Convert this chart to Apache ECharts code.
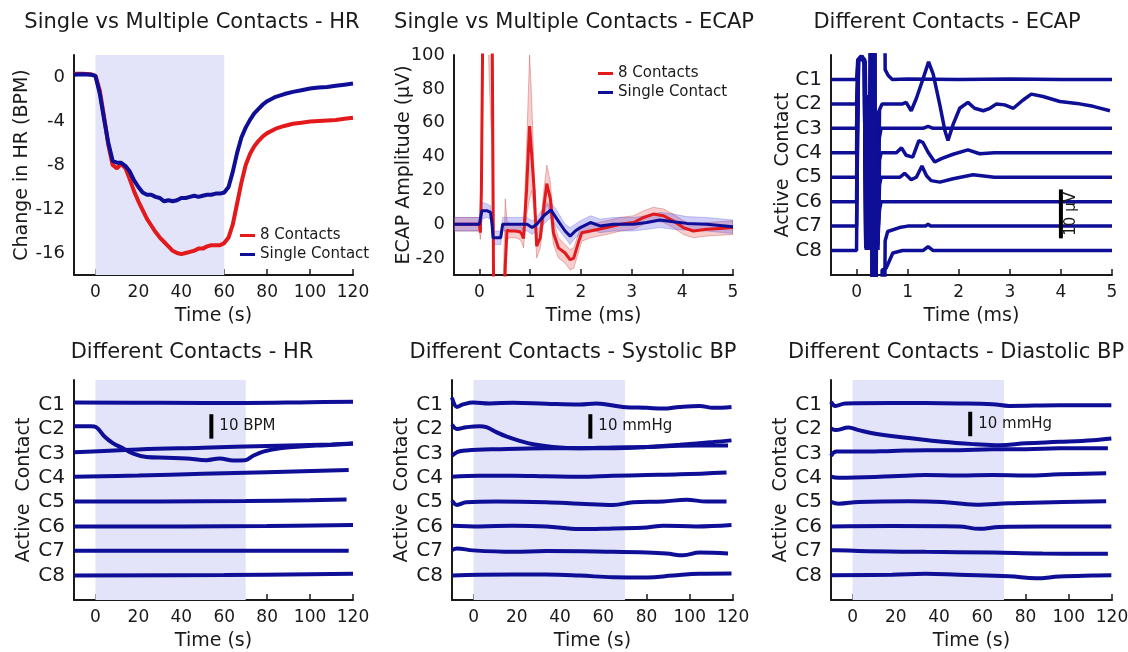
<!DOCTYPE html>
<html>
<head>
<meta charset="utf-8">
<script src="https://cdn.jsdelivr.net/npm/echarts@6/dist/echarts.min.js"></script>
<style>
  html, body { margin: 0; padding: 0; background: #fff; }
  #main { width: 1128px; height: 652px; }
</style>
</head>
<body>
<div id="main"></div>
<script>
// ---------- panel A: HR, single vs multiple contacts ----------
var hrTime = [-10,-6,-2,0,2,4,6,8,10,12,14,16,18,20,22,24,26,28,30,32,34,36,38,40,42,44,46,48,50,52,54,56,58,60,62,64,66,68,70,72,74,76,78,80,84,88,92,96,100,104,108,112,116,120];
var hrMulti = [0.3,0.3,0.25,0.1,-1.2,-3.6,-6.2,-8.0,-8.3,-7.9,-8.3,-9.3,-10.4,-11.3,-12.1,-12.9,-13.5,-14.1,-14.6,-15.0,-15.4,-15.8,-16.0,-16.1,-16.0,-15.9,-15.8,-15.6,-15.6,-15.4,-15.3,-15.3,-15.3,-15.1,-14.6,-13.4,-11.5,-9.6,-8.0,-7.0,-6.3,-5.8,-5.4,-5.1,-4.7,-4.45,-4.25,-4.15,-4.05,-4.0,-3.95,-3.9,-3.8,-3.7];
var hrSingle = [0.2,0.25,0.2,0.1,-1.5,-3.8,-6.0,-7.6,-7.8,-7.8,-8.1,-8.6,-9.4,-10.0,-10.5,-10.7,-10.7,-10.9,-11.0,-11.3,-11.2,-11.3,-11.2,-11.0,-11.0,-10.9,-10.8,-10.9,-10.8,-10.7,-10.7,-10.6,-10.6,-10.5,-10.0,-8.6,-6.9,-5.5,-4.6,-3.9,-3.3,-2.9,-2.5,-2.2,-1.8,-1.55,-1.35,-1.2,-1.05,-0.95,-0.9,-0.8,-0.7,-0.6];

// ---------- panel B: ECAP, single vs multiple contacts ----------
var ecapMultiT = [-0.5,-0.2,0,0.02,0.04,0.08,0.14,0.2,0.25,0.29,0.35,0.45,0.51,0.545,0.6,0.7,0.8,0.84,0.87,0.93,0.99,1.03,1.08,1.13,1.2,1.27,1.33,1.4,1.46,1.56,1.69,1.79,1.86,1.96,2.02,2.19,2.35,2.51,2.78,3.04,3.24,3.43,3.63,3.82,4.02,4.22,4.48,4.74,5.0];
var ecapMulti = [0,0,0,-5,20,160,200,190,130,-90,-150,-100,-25,-3.5,-4,-4,-4.5,-6,-8.4,20,58,42,20,-13,-8,10,24,15,-5,-14,-17,-21,-20,-10,-5,-4,-3,-2,0,1,4,6,5,2,-2,-4,-3,-2.5,-2];
var ecapMultiHi = [4,4,4,-1,40,200,250,230,150,-50,-100,-60,15,2,0,0,-1,-2,-3,45,100,75,30,-6,-2,20,35,25,2,-8,-12,-15,-14,-5,-1,0,1,2,4,5,8,10,9,6,2,0,1,1.5,2];
var ecapMultiLo = [-4,-4,-4,-9,5,120,150,80,45,-130,-200,-140,-40,-9,-8,-8,-9,-11,-14,5,15,20,8,-20,-14,2,13,5,-12,-20,-23,-27,-26,-16,-10,-8,-7,-6,-4,-3,0,2,1,-2,-6,-8,-7,-6.5,-6];
var ecapSingleT = [-0.5,0,0.02,0.05,0.15,0.22,0.25,0.27,0.42,0.46,0.7,0.94,1.04,1.13,1.27,1.41,1.53,1.69,1.79,1.89,1.99,2.19,2.38,2.64,3.04,3.3,3.56,3.82,4.09,4.48,5.0];
var ecapSingle = [0,0,0,8,8,7,0,-8,-8,0,0,0,-2,0,5,8.5,3,-4,-7,-4,-2,1,-1,0,0,1,2.5,1.5,0.5,0,-1.5];
var ecapSingleHi = [4,4,4,13,12,11,4,-4,-4,4,4,4,2,4,10,13,8,0,-2,0,2,5,3,4,4,5,7,6,4.5,4,2.5];
var ecapSingleLo = [-4,-4,-4,3,4,3,-4,-12,-12,-4,-4,-4,-6,-4,0,4,-2,-8,-12,-8,-6,-3,-5,-4,-4,-3,-2,-3,-3.5,-4,-5.5];

// ---------- panel C: ECAP per contact, [time ms, uV] ----------
var ecapC1 = [[-0.5,0],[0,0],[0.03,4],[0.09,4.6],[0.15,3.6],[0.18,-32.8],[0.21,-6.2],[0.24,-31.8],[0.27,-8.3],[0.29,60],[0.32,-60],[0.34,60],[0.53,60],[0.56,2],[0.62,0.8],[0.7,0],[1.0,0.1],[2.0,0],[3.0,0.1],[4.0,0],[5.0,0]];
var ecapC2 = [[-0.5,0],[0,0],[0.04,9],[0.1,9.8],[0.16,8.2],[0.19,-29.9],[0.22,-0.2],[0.25,-29.4],[0.27,-2.2],[0.3,60],[0.32,-60],[0.35,60],[0.37,-60],[0.39,-5.3],[0.42,-27.8],[0.45,-1.2],[0.5,0],[0.9,0],[0.97,0.3],[1.07,-1.4],[1.17,1.1],[1.3,5.1],[1.41,8.6],[1.5,6.1],[1.63,-0.2],[1.73,-5.5],[1.79,-7.5],[1.89,-4.2],[2.02,-0.9],[2.18,0.3],[2.31,-0.9],[2.48,-1.4],[2.61,-0.9],[2.74,0],[2.9,-0.2],[3.07,-0.9],[3.26,0.8],[3.42,2.0],[3.65,1.5],[3.98,0.5],[4.31,0.1],[4.63,-0.5],[4.96,-1.4]];
var ecapC3 = [[-0.5,0],[0,0],[0.03,14],[0.09,14.6],[0.15,13.4],[0.18,-23.8],[0.21,5.8],[0.24,-24.9],[0.26,-0.3],[0.29,60],[0.31,-60],[0.34,60],[0.36,-60],[0.38,-4.4],[0.41,-21.8],[0.44,-2.4],[0.48,0],[1.3,0],[1.4,0.4],[1.5,0],[5,0]];
var ecapC4 = [[-0.5,0],[0,0],[0.02,18.6],[0.1,19.8],[0.16,19],[0.19,-16.8],[0.22,11.8],[0.24,-17.8],[0.27,9.8],[0.3,60],[0.33,-60],[0.35,60],[0.37,-60],[0.4,6.7],[0.42,-19.9],[0.45,-1.5],[0.48,0],[0.78,0],[0.88,1.0],[0.97,-0.5],[1.1,-0.9],[1.22,2.5],[1.3,2.1],[1.4,0.1],[1.53,-1.9],[1.66,-1.2],[1.89,-0.3],[2.18,0.6],[2.41,-0.2],[2.7,0],[5,0]];
var ecapC5 = [[-0.5,0],[0,0],[0.04,24],[0.11,24.6],[0.17,23],[0.2,-14.9],[0.23,12.7],[0.25,-13.8],[0.28,15.8],[0.3,60],[0.32,-60],[0.34,60],[0.36,-60],[0.39,13.7],[0.42,-13.8],[0.45,-1.6],[0.48,0],[0.85,0],[0.94,0.8],[1.07,-0.5],[1.17,0],[1.28,2.3],[1.37,0.3],[1.46,-0.7],[1.63,-1.0],[1.89,-0.3],[2.28,0.5],[2.7,0],[5,0]];
var ecapC6 = [[-0.5,0],[0,0],[0.03,29],[0.09,29.8],[0.15,28.6],[0.18,-9.5],[0.21,16.7],[0.24,-9.9],[0.26,12.6],[0.29,60],[0.31,-60],[0.33,60],[0.36,-60],[0.38,15.7],[0.41,-7.8],[0.45,-1.7],[0.48,0],[5,0]];
var ecapC7 = [[-0.5,0],[0,0],[0.04,33.8],[0.1,34.6],[0.16,33.4],[0.19,-3.8],[0.22,24.8],[0.25,-4.9],[0.27,21.7],[0.3,60],[0.32,-60],[0.35,60],[0.37,-60],[0.52,-60],[0.56,-3],[0.61,-1.1],[0.84,-0.3],[1.0,0],[1.35,0],[1.4,0.4],[1.45,0],[5,0]];
var ecapC8 = [[-0.5,0],[0,0],[0.03,39],[0.1,39.8],[0.17,38.6],[0.2,0.1],[0.23,28.8],[0.25,1.1],[0.28,24.6],[0.3,60],[0.33,-60],[0.35,60],[0.37,-60],[0.48,-60],[0.5,-4],[0.58,-3.6],[0.71,-0.5],[0.9,0],[1.3,0],[1.4,0.8],[1.5,0],[5,0]];

// ---------- panel D: HR per contact, [time s, BPM change] ----------
var hrC1 = [[-10,0.8],[30,0.7],[70,0.6],[100,0.9],[120,1.1]];
var hrC2 = [[-10,1.1],[-2,1.1],[0.3,0.7],[4.2,-3.1],[8.1,-5.8],[12.8,-7.9],[17.4,-10],[23.7,-11.5],[33,-11.8],[42.4,-12.1],[51.7,-12.8],[57.9,-12.1],[64.2,-12.9],[69.6,-12.8],[73.5,-11],[78.2,-9.3],[86,-7.9],[92.2,-7.4],[103,-6.8],[111,-6.5],[120,-6.0]];
var hrC3 = [[-10,0.4],[20,1.6],[50,2.3],[80,3.0],[110,3.6],[120,4.0]];
var hrC4 = [[-10,0.4],[20,0.9],[50,1.6],[80,2.3],[118,3.2]];
var hrC5 = [[-10,0.3],[30,0.3],[70,0.5],[100,0.8],[117,1.1]];
var hrC6 = [[-10,0.1],[40,0.1],[80,0.3],[120,0.7]];
var hrC7 = [[-10,0.1],[50,0.1],[118,0.1]];
var hrC8 = [[-10,0],[60,0.2],[120,0.7]];

// ---------- panel E: systolic BP per contact, [time s, mmHg change] ----------
var sbpC1 = [[-10,2.8],[-7.7,-1],[-4.9,0],[-0.3,0.8],[7.4,0.4],[18.2,0.7],[33.6,0.3],[49.1,0],[56.8,0.4],[69.1,-1],[80.2,-1.4],[87.7,-1.7],[95.4,-1],[104.6,-0.6],[110.8,-1.4],[119.3,-1]];
var sbpC2 = [[-10,1.8],[-7.7,0],[-3.4,0.7],[2.8,1.1],[5.9,0.7],[10.5,-1.3],[15.1,-3.1],[21.3,-4.9],[27.5,-6.3],[36.7,-7.4],[49.1,-7.9],[64.5,-7.9],[80.2,-7.4],[95.4,-6.5],[110.8,-5.4],[119.3,-4.7]];
var sbpC3 = [[-10,-1],[-7.4,0.6],[-3.4,1.2],[10.5,1.7],[33.6,2.1],[49.1,2.1],[64.5,2.4],[80.2,2.6],[95.4,3.1],[117.7,3.2]];
var sbpC4 = [[-10,0.4],[2.8,0.8],[18.2,0.8],[33.6,0.6],[49.1,0.4],[64.5,0.8],[80.2,1.1],[95.4,1.4],[117,2.2]];
var sbpC5 = [[-10,0.7],[-7.7,-1.1],[-3.4,0],[10.5,0.3],[33.6,0],[49.1,-0.6],[64.5,-1.1],[73.8,0],[87.7,0.3],[98.5,1],[107.7,0.3],[117,0.3]];
var sbpC6 = [[-10,0.4],[2.8,0.1],[18.2,0.4],[33.6,0.1],[49.1,-1],[64.5,-0.7],[80.2,-0.3],[87.7,0.4],[103,0.1],[119.3,0.7]];
var sbpC7 = [[-10,0.4],[-7.7,1.1],[-0.3,0.3],[18.2,-0.3],[33.6,0],[64.5,-0.3],[80.2,-0.6],[89.2,-1],[96.9,-1.7],[104.6,-0.6],[117.7,-1]];
var sbpC8 = [[-10,0],[2.8,0.3],[33.6,0.4],[49.1,0],[64.5,-0.7],[80.2,-0.8],[92.3,0],[104.6,0.7],[119.3,0.8]];

// ---------- panel F: diastolic BP per contact, [time s, mmHg change] ----------
var dbpC1 = [[-10,1.1],[-8,-0.6],[-3.4,0.4],[18.3,0.6],[49.2,0.4],[64.7,0.1],[72.4,-0.6],[95.7,-0.3],[119.7,-0.3]];
var dbpC2 = [[-10,0.2],[-8,-0.5],[-1.9,0.6],[2.8,-0.5],[10.5,-2],[26,-3.7],[41.5,-5.3],[57,-6.3],[67.8,-6.7],[80.2,-5.9],[95.7,-5.3],[111.1,-4.6],[119.7,-3.9]];
var dbpC3 = [[-10,-1],[-7.5,0.7],[2.8,0.7],[18.3,1],[33.7,1.3],[49.2,1.3],[64.7,1.7],[80.2,1.7],[95.7,2.1],[118.1,2.1]];
var dbpC4 = [[-10,0.4],[-6.5,0],[18.3,0.6],[33.7,1.1],[49.2,0.9],[64.7,1.1],[80.2,0.9],[95.7,1.4],[117.3,1.9]];
var dbpC5 = [[-10,0.1],[-6.5,-0.6],[2.8,0.1],[26,0.4],[41.5,0.1],[57,-1],[72.4,-0.4],[87.9,-0.1],[117.3,0.4]];
var dbpC6 = [[-10,0.1],[18.3,0.3],[49.2,0.1],[58.5,-0.9],[67.8,-0.1],[87.9,0.1],[119.7,0.1]];
var dbpC7 = [[-10,0.4],[-8,0.4],[2.8,0],[33.7,-0.3],[64.7,-0.6],[87.9,-1],[118.1,-1.1]];
var dbpC8 = [[-10,0.1],[18.3,0.3],[33.7,0.7],[49.2,0.3],[72.4,-0.3],[84.8,-1.1],[95.7,-0.4],[111.1,0],[119.7,0.1]];

// tick labels / misc values
var secTicks = [0, 20, 40, 60, 80, 100, 120];
var msTicks = [0, 1, 2, 3, 4, 5];
var hrTicks = [-16, -12, -8, -4, 0];
var ecapTicks = [-20, 0, 20, 40, 60, 80, 100];
var contactRows = [1, 2, 3, 4, 5, 6, 7, 8];
var contactNames = ['C1', 'C2', 'C3', 'C4', 'C5', 'C6', 'C7', 'C8'];
var UV_PER_ROW = 5;      // ECAP stack: 10 uV = 2 rows
var UNIT_PER_ROW = 10;   // HR/BP stack: 10 BPM / mmHg = 1 row

var FONT = 'DejaVu Sans';
var INK = '#1a1a1a';
var RED = '#e31a1c';
var BLUE = '#0e0e96';
var SHADE = '#e3e3fa';

function pairs(xs, ys) {
  return xs.map(function (x, i) { return [x, ys[i]]; });
}

function xAxis(i, min, max, ticks, name) {
  return {
    type: 'value', gridIndex: i, min: min, max: max,
    name: name, nameLocation: 'middle', nameGap: 32, nameMoveOverlap: false,
    nameTextStyle: { fontSize: 19, fontFamily: FONT, color: INK },
    axisLine: { show: true, onZero: false, lineStyle: { color: INK, width: 2 } },
    axisTick: { show: true, inside: true, length: 6, customValues: ticks, lineStyle: { color: INK, width: 1.5 } },
    axisLabel: { customValues: ticks, fontSize: 17, fontFamily: FONT, color: INK, margin: 9, showMinLabel: true, showMaxLabel: true },
    splitLine: { show: false }
  };
}

function yAxis(i, min, max, ticks, name, gap, fmt, size) {
  return {
    type: 'value', gridIndex: i, min: min, max: max,
    name: name, nameLocation: 'middle', nameGap: gap, nameMoveOverlap: false,
    nameTextStyle: { fontSize: 19, fontFamily: FONT, color: INK },
    axisLine: { show: true, onZero: false, lineStyle: { color: INK, width: 2 } },
    axisTick: { show: false },
    axisLabel: { customValues: ticks, formatter: fmt, fontSize: size, fontFamily: FONT, color: INK, margin: 9, showMinLabel: true, showMaxLabel: true },
    splitLine: { show: false }
  };
}

function contactLabel(v) { return contactNames[8 - v]; }

function line(i, name, data, color, width, extra) {
  var s = {
    type: 'line', name: name, xAxisIndex: i, yAxisIndex: i, data: data,
    showSymbol: false, symbol: 'none', clip: true, silent: true,
    lineStyle: { color: color, width: width }, itemStyle: { color: color }
  };
  if (extra) for (var k in extra) s[k] = extra[k];
  return s;
}

function band(i, t, lo, hi, fill, edge) {
  return {
    type: 'custom', xAxisIndex: i, yAxisIndex: i, silent: true,
    data: [[t[0], lo[0]]], encode: { x: 0, y: 1 },
    renderItem: function (params, api) {
      var pts = [], k;
      for (k = 0; k < t.length; k++) pts.push(api.coord([t[k], hi[k]]));
      for (k = t.length - 1; k >= 0; k--) pts.push(api.coord([t[k], lo[k]]));
      var cs = params.coordSys;
      return {
        type: 'polygon', shape: { points: pts },
        clipPath: { type: 'rect', shape: { x: cs.x, y: cs.y, width: cs.width, height: cs.height } },
        style: { fill: fill, stroke: edge, lineWidth: 0.8 }
      };
    }
  };
}

function scaleBar(i, x, y0, len, text, rotated) {
  return {
    type: 'custom', xAxisIndex: i, yAxisIndex: i, silent: true, z: 5,
    data: [[x, y0, y0 + len]], encode: { x: 0, y: [1, 2] },
    renderItem: function (params, api) {
      var a = api.coord([api.value(0), api.value(1)]);
      var b = api.coord([api.value(0), api.value(2)]);
      var mid = (a[1] + b[1]) / 2;
      var label = rotated
        ? { type: 'text', x: a[0] + 10, y: mid, rotation: Math.PI / 2,
            style: { text: text, fontSize: 15, fontFamily: FONT, fill: INK, align: 'center', verticalAlign: 'middle' } }
        : { type: 'text', x: a[0] + 8, y: mid,
            style: { text: text, fontSize: 15, fontFamily: FONT, fill: INK, align: 'left', verticalAlign: 'middle' } };
      return {
        type: 'group', children: [
          { type: 'line', shape: { x1: a[0], y1: a[1], x2: b[0], y2: b[1] }, style: { stroke: '#000', lineWidth: 4 } },
          label
        ]
      };
    }
  };
}

function stack(i, traces, perRow, width, shadeTo, smooth) {
  return traces.map(function (tr, k) {
    var row = 8 - k;
    var extra = { smooth: smooth };
    if (k === 0 && shadeTo) {
      extra.markArea = { silent: true, itemStyle: { color: SHADE }, data: [[{ xAxis: 0 }, { xAxis: shadeTo }]] };
    }
    return line(i, 'C' + (k + 1), tr.map(function (p) { return [p[0], row + p[1] / perRow]; }), BLUE, width, extra);
  });
}

var grids = [
  { left: 74, top: 55, width: 279, height: 220 },
  { left: 454, top: 55, width: 279, height: 220 },
  { left: 831, top: 55, width: 281, height: 220 },
  { left: 74, top: 380, width: 279, height: 220 },
  { left: 452, top: 380, width: 281, height: 220 },
  { left: 831, top: 380, width: 281, height: 220 }
].map(function (g) { g.containLabel = false; g.outerBoundsMode = 'none'; return g; });

var series = [];
// A
series.push(line(0, '8 Contacts', pairs(hrTime, hrMulti), RED, 4, {
  markArea: { silent: true, itemStyle: { color: SHADE }, data: [[{ xAxis: 0 }, { xAxis: 60 }]] }
}));
series.push(line(0, 'Single Contact', pairs(hrTime, hrSingle), BLUE, 4));
// B
series.push(band(1, ecapMultiT, ecapMultiLo, ecapMultiHi, 'rgba(232,90,90,0.30)', 'rgba(190,60,60,0.45)'));
series.push(band(1, ecapSingleT, ecapSingleLo, ecapSingleHi, 'rgba(80,80,235,0.28)', 'rgba(70,70,200,0.35)'));
series.push(line(1, '8 Contacts', pairs(ecapMultiT, ecapMulti), RED, 3));
series.push(line(1, 'Single Contact', pairs(ecapSingleT, ecapSingle), BLUE, 3));
// C
series = series.concat(stack(2, [ecapC1, ecapC2, ecapC3, ecapC4, ecapC5, ecapC6, ecapC7, ecapC8], UV_PER_ROW, 3.5, null, false));
series.push(scaleBar(2, 4, 1.5, 10 / UV_PER_ROW, '10 µV', true));
// D, E, F
series = series.concat(stack(3, [hrC1, hrC2, hrC3, hrC4, hrC5, hrC6, hrC7, hrC8], UNIT_PER_ROW, 4, 70, 0.4));
series.push(scaleBar(3, 54, 6.6, 10 / UNIT_PER_ROW, '10 BPM', false));
series = series.concat(stack(4, [sbpC1, sbpC2, sbpC3, sbpC4, sbpC5, sbpC6, sbpC7, sbpC8], UNIT_PER_ROW, 4, 70, 0.4));
series.push(scaleBar(4, 54, 6.6, 10 / UNIT_PER_ROW, '10 mmHg', false));
series = series.concat(stack(5, [dbpC1, dbpC2, dbpC3, dbpC4, dbpC5, dbpC6, dbpC7, dbpC8], UNIT_PER_ROW, 4, 70, 0.4));
series.push(scaleBar(5, 54.4, 6.7, 10 / UNIT_PER_ROW, '10 mmHg', false));

function title(text, x, y) {
  return { type: 'text', x: x, y: y, silent: true,
    style: { text: text, fontSize: 21, fontFamily: FONT, fill: INK, align: 'center', verticalAlign: 'middle' } };
}

var legendBase = {
  data: ['8 Contacts', 'Single Contact'], orient: 'vertical', icon: 'rect',
  itemWidth: 15, itemHeight: 3, itemGap: 4, padding: 0, selectedMode: false,
  textStyle: { fontSize: 15, fontFamily: FONT, color: INK }
};

var option = {
  animation: false,
  backgroundColor: '#fff',
  grid: grids,
  xAxis: [
    xAxis(0, -10, 120, secTicks, 'Time (s)'),
    xAxis(1, -0.5, 5, msTicks, 'Time (ms)'),
    xAxis(2, -0.5, 5, msTicks, 'Time (ms)'),
    xAxis(3, -10, 120, secTicks, 'Time (s)'),
    xAxis(4, -10, 120, secTicks, 'Time (s)'),
    xAxis(5, -10, 120, secTicks, 'Time (s)')
  ],
  yAxis: [
    yAxis(0, -18, 2, hrTicks, 'Change in HR (BPM)', 42, null, 18),
    yAxis(1, -30, 100, ecapTicks, 'ECAP Amplitude (µV)', 40, null, 18),
    yAxis(2, 0, 9, contactRows, 'Active  Contact', 38, contactLabel, 20),
    yAxis(3, 0, 9, contactRows, 'Active  Contact', 40, contactLabel, 20),
    yAxis(4, 0, 9, contactRows, 'Active  Contact', 40, contactLabel, 20),
    yAxis(5, 0, 9, contactRows, 'Active  Contact', 40, contactLabel, 20)
  ],
  legend: [
    Object.assign({ left: 240, top: 228 }, legendBase),
    Object.assign({ left: 598, top: 66 }, legendBase)
  ],
  graphic: [
    title('Single vs Multiple Contacts - HR', 192, 23),
    title('Single vs Multiple Contacts - ECAP', 574, 23),
    title('Different Contacts - ECAP', 947, 23),
    title('Different Contacts - HR', 192, 353),
    title('Different Contacts - Systolic BP', 573, 353),
    title('Different Contacts - Diastolic BP', 956, 353)
  ],
  series: series
};

var chart = echarts.init(document.getElementById('main'));
chart.setOption(option);
</script>
</body>
</html>
